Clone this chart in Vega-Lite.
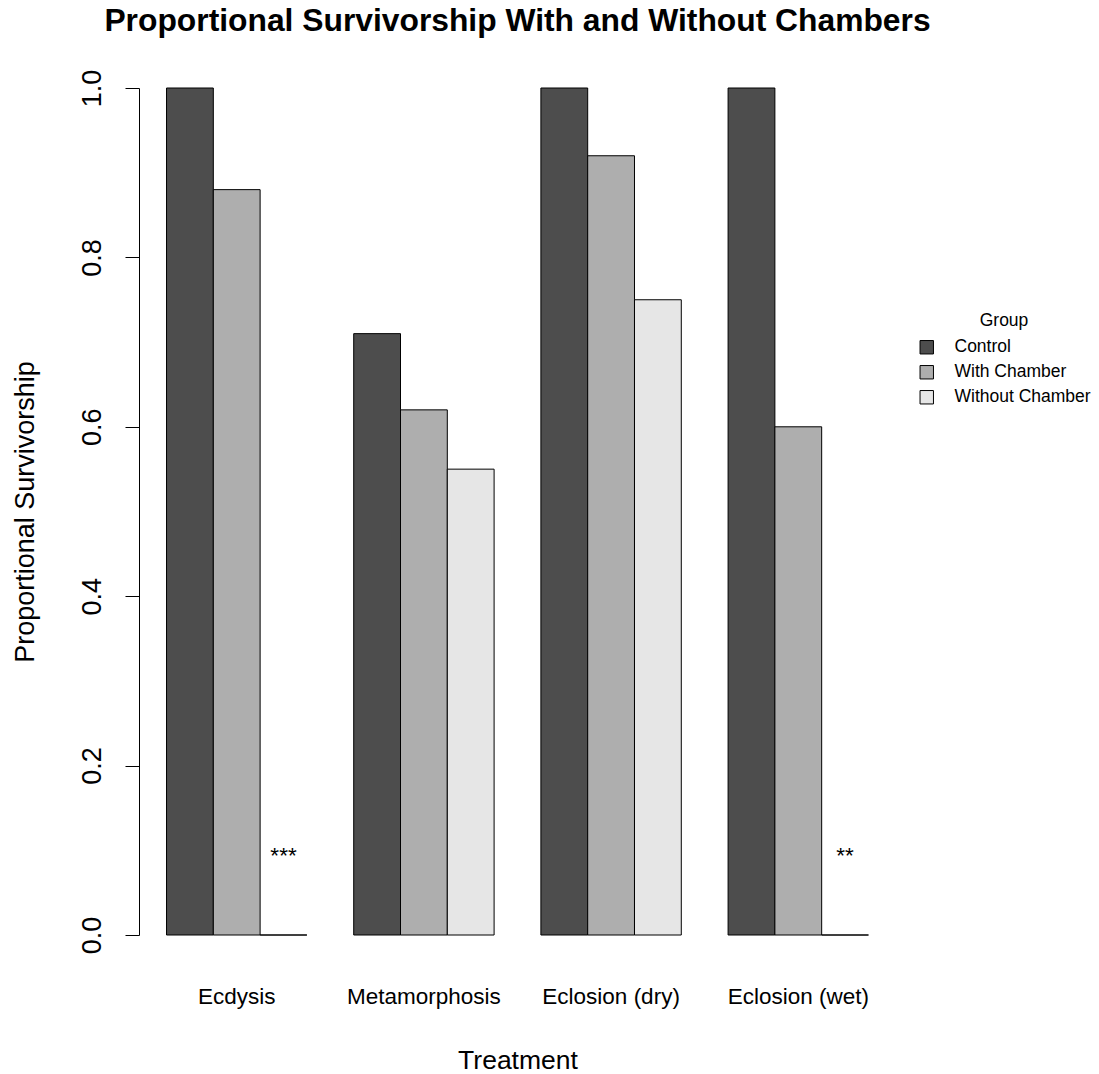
{
  "$schema": "https://vega.github.io/schema/vega-lite/v6.json",
  "width": 757,
  "height": 847,
  "autosize": {"type": "none"},
  "padding": {"left": 139, "top": 88, "right": 203, "bottom": 139},
  "background": "white",
  "config": {
    "font": "Liberation Sans",
    "view": {"stroke": null}
  },
  "title": {
    "text": "Proportional Survivorship With and Without Chambers",
    "fontSize": 31.8,
    "fontWeight": "bold",
    "color": "black",
    "anchor": "middle",
    "frame": "group",
    "baseline": "alphabetic",
    "offset": 6
  },
  "data": {
    "values": [
      {"treatment": "Ecdysis", "group": "Control", "value": 1.0},
      {"treatment": "Ecdysis", "group": "With Chamber", "value": 0.88},
      {"treatment": "Ecdysis", "group": "Without Chamber", "value": 0.0},
      {"treatment": "Metamorphosis", "group": "Control", "value": 0.71},
      {"treatment": "Metamorphosis", "group": "With Chamber", "value": 0.62},
      {"treatment": "Metamorphosis", "group": "Without Chamber", "value": 0.55},
      {"treatment": "Eclosion (dry)", "group": "Control", "value": 1.0},
      {"treatment": "Eclosion (dry)", "group": "With Chamber", "value": 0.92},
      {"treatment": "Eclosion (dry)", "group": "Without Chamber", "value": 0.75},
      {"treatment": "Eclosion (wet)", "group": "Control", "value": 1.0},
      {"treatment": "Eclosion (wet)", "group": "With Chamber", "value": 0.60},
      {"treatment": "Eclosion (wet)", "group": "Without Chamber", "value": 0.0}
    ]
  },
  "layer": [
    {
      "mark": {"type": "bar", "stroke": "black", "strokeWidth": 1},
      "encoding": {
        "x": {
          "field": "treatment",
          "type": "nominal",
          "sort": ["Ecdysis", "Metamorphosis", "Eclosion (dry)", "Eclosion (wet)"],
          "scale": {"paddingInner": 0.25, "paddingOuter": 0.147},
          "axis": {
            "domain": false,
            "ticks": false,
            "tickSize": 0,
            "labelAngle": 0,
            "labelFontSize": 22.5,
            "labelColor": "black",
            "labelBaseline": "alphabetic",
            "labelPadding": 68,
            "title": "Treatment",
            "titleFontSize": 26.5,
            "titleFontWeight": "normal",
            "titleColor": "black",
            "titleBaseline": "alphabetic",
            "titleY": 133
          }
        },
        "xOffset": {
          "field": "group",
          "type": "nominal",
          "sort": ["Control", "With Chamber", "Without Chamber"],
          "scale": {"paddingInner": 0, "paddingOuter": 0}
        },
        "y": {
          "field": "value",
          "type": "quantitative",
          "scale": {"domain": [0, 1], "nice": false},
          "axis": {
            "values": [0, 0.2, 0.4, 0.6, 0.8, 1.0],
            "format": ".1f",
            "grid": false,
            "domainColor": "black",
            "domainWidth": 1,
            "tickColor": "black",
            "tickSize": 14,
            "tickWidth": 1,
            "labelAngle": 270,
            "labelAlign": "center",
            "labelBaseline": "alphabetic",
            "labelPadding": 25,
            "labelFontSize": 27,
            "labelColor": "black",
            "labelFlush": false,
            "labelOverlap": false,
            "title": "Proportional Survivorship",
            "titleFontSize": 27,
            "titleFontWeight": "normal",
            "titleColor": "black",
            "titleAngle": 270,
            "titleAlign": "center",
            "titleBaseline": "alphabetic",
            "titleX": -106,
            "titleY": 423.5
          }
        },
        "color": {
          "field": "group",
          "type": "nominal",
          "scale": {
            "domain": ["Control", "With Chamber", "Without Chamber"],
            "range": ["#4D4D4D", "#AEAEAE", "#E6E6E6"]
          },
          "legend": {
            "title": "Group",
            "orient": "none",
            "legendX": 779,
            "legendY": 224,
            "padding": 0,
            "titleFontSize": 17.5,
            "titleFontWeight": "normal",
            "titleColor": "black",
            "titleAnchor": "middle",
            "titlePadding": 9,
            "labelFontSize": 17.5,
            "labelColor": "black",
            "labelOffset": 19,
            "symbolType": "square",
            "symbolSize": 180,
            "symbolStrokeColor": "black",
            "symbolStrokeWidth": 1,
            "symbolOpacity": 1,
            "rowPadding": 6
          }
        }
      }
    },
    {
      "data": {
        "values": [
          {"treatment": "Ecdysis", "group": "Without Chamber", "pos": 0.1, "label": "***"},
          {"treatment": "Eclosion (wet)", "group": "Without Chamber", "pos": 0.1, "label": "**"}
        ]
      },
      "mark": {"type": "text", "fontSize": 22.5, "color": "black", "align": "center", "baseline": "alphabetic", "dy": 13},
      "encoding": {
        "x": {"field": "treatment", "type": "nominal", "sort": ["Ecdysis", "Metamorphosis", "Eclosion (dry)", "Eclosion (wet)"]},
        "xOffset": {"field": "group", "type": "nominal", "sort": ["Control", "With Chamber", "Without Chamber"]},
        "y": {"field": "pos", "type": "quantitative"},
        "text": {"field": "label"}
      }
    }
  ]
}
